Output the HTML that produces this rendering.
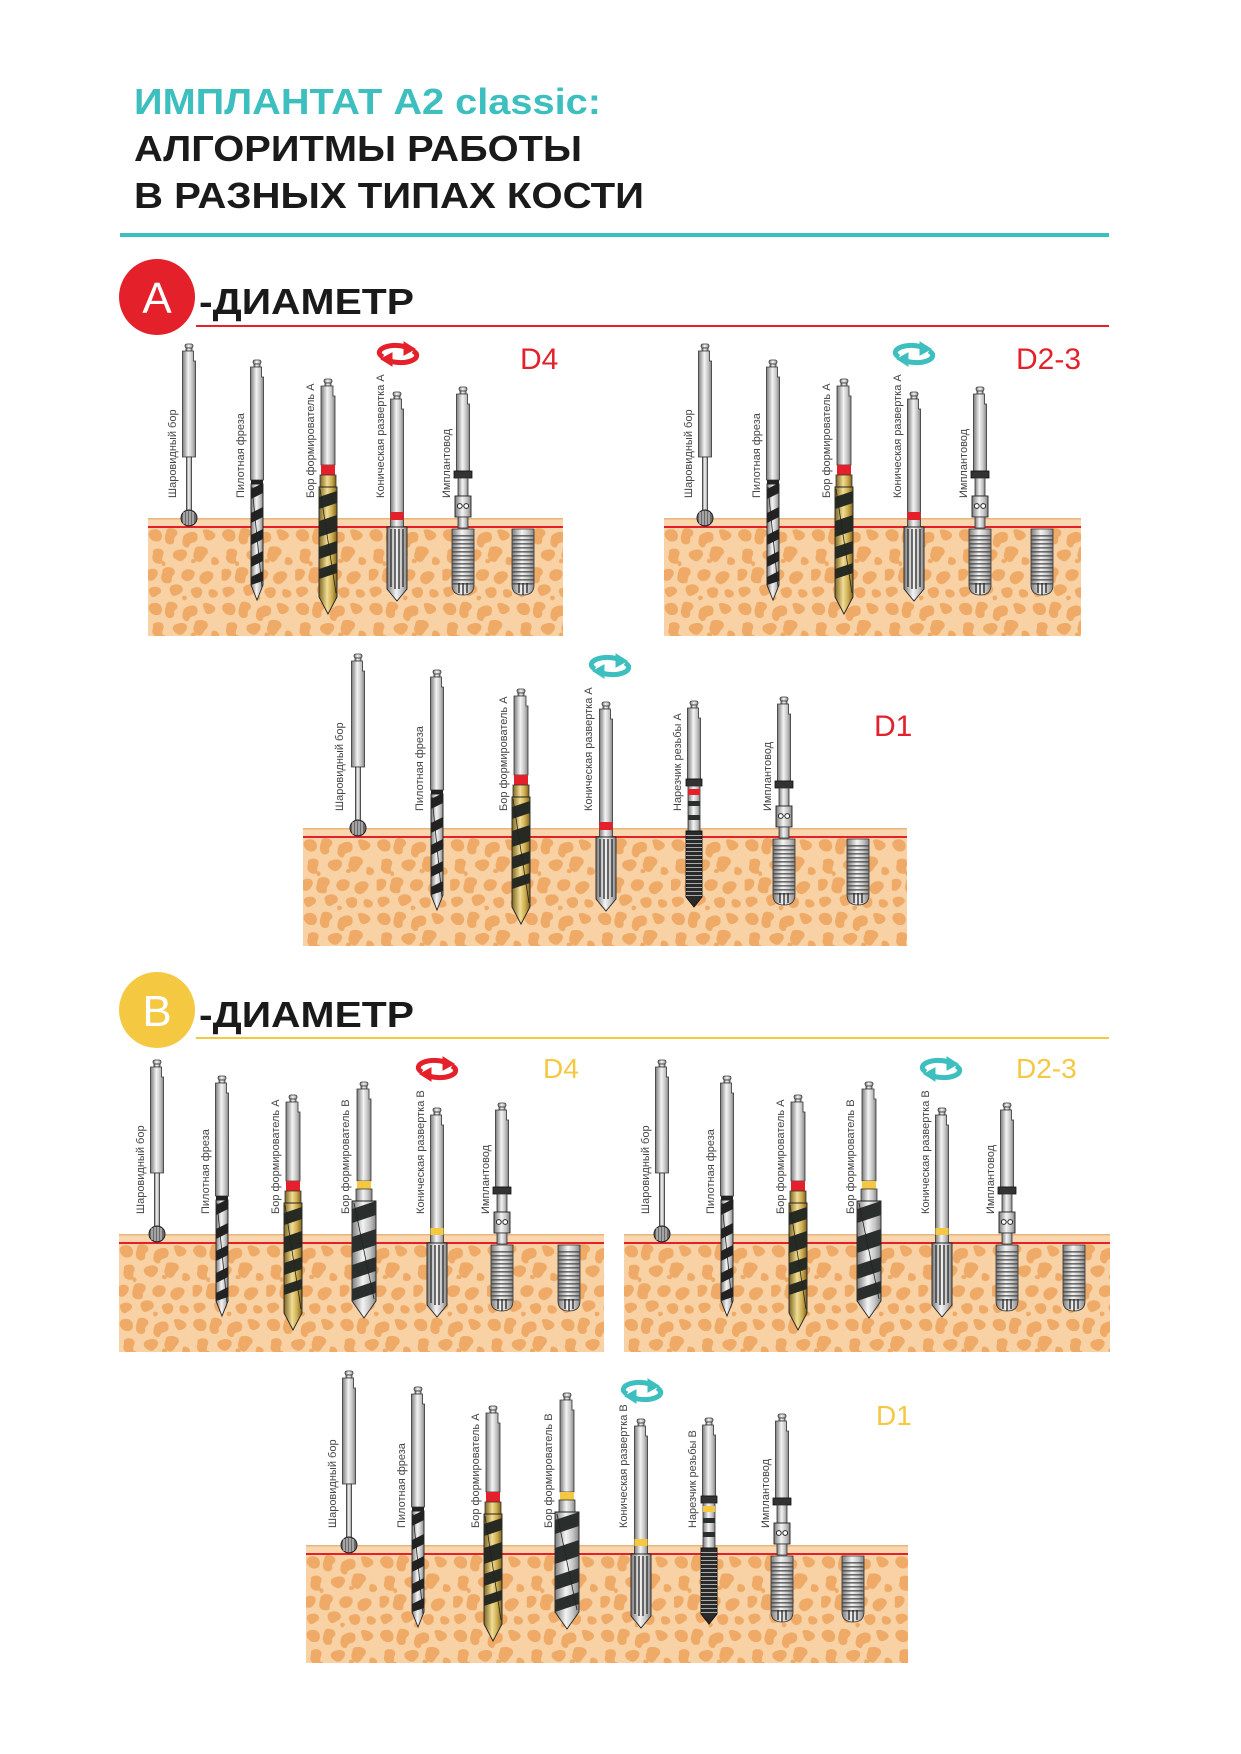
<!DOCTYPE html>
<html><head><meta charset="utf-8"><style>html,body{margin:0;padding:0;background:#fff}svg{display:block}</style></head>
<body>
<svg width="1241" height="1754" viewBox="0 0 1241 1754" xmlns="http://www.w3.org/2000/svg" font-family="Liberation Sans, sans-serif">
<defs>
<linearGradient id="m" x1="0" x2="1" y1="0" y2="0"><stop offset="0" stop-color="#7a7a7a"/><stop offset=".45" stop-color="#f4f4f4"/><stop offset=".75" stop-color="#c4c4c4"/><stop offset="1" stop-color="#858585"/></linearGradient>
<linearGradient id="gd" x1="0" x2="1" y1="0" y2="0"><stop offset="0" stop-color="#7d6520"/><stop offset=".45" stop-color="#f1dd95"/><stop offset=".75" stop-color="#c9a84a"/><stop offset="1" stop-color="#7a601c"/></linearGradient>
<pattern id="bone" width="64" height="64" patternUnits="userSpaceOnUse" patternTransform="scale(1.15)">
<rect width="64" height="64" fill="#f8d2a4"/>
<g fill="#eeaa66">
<path d="M2 3c6-3 11 1 10 6s-7 4-9 2-4-5-1-8z"/><path d="M19 1c7 0 8 5 5 7s1 6-4 7-6-5-5-8 1-6 4-6z"/>
<path d="M35 5c5-2 9 0 8 5s-6 2-7 6-7 1-6-4 1-5 5-7z"/><path d="M51 2c6 1 10 5 6 8s-7 2-8-2-3-6 2-6z"/>
<path d="M7 19c5-1 8 2 6 6s2 7-3 7-7-4-6-7-1-5 3-6z"/><path d="M26 20c6-2 10 2 7 6s-5 5-9 2-3-7 2-8z"/>
<path d="M44 17c7-1 10 4 7 7s-4 8-8 6-4-6-3-8 0-5 4-5z"/><path d="M57 26c4 0 6 4 4 6s-6 1-6-1 0-5 2-5z"/>
<path d="M1 37c5-2 9 1 7 5s-5 6-8 4-3-7 1-9z"/><path d="M16 35c7-1 9 4 6 7s1 7-5 7-6-5-5-8 0-5 4-6z"/>
<path d="M33 37c6-1 9 2 7 6s-6 5-9 3-3-7 2-9z"/><path d="M49 39c6-2 10 2 7 6s-6 6-9 4-4-7 2-10z"/>
<path d="M5 52c6-1 8 4 5 6s-6 5-8 1-2-6 3-7z"/><path d="M23 50c7-1 9 5 6 7s-7 5-9 1-2-7 3-8z"/>
<path d="M40 53c5-2 8 1 7 5s-6 5-8 2-3-6 1-7z"/><path d="M55 54c5 0 7 4 5 6s-6 2-7-1 0-5 2-5z"/>
<path d="M12 30c2-1 4 1 3 3s-4 1-3-3z"/><path d="M38 28c3-1 5 2 3 3s-5 0-3-3z"/><path d="M30 60c3-1 5 1 3 3s-4 0-3-3z"/>
</g></pattern>

<g id="knob"><rect x="-4" y="0" width="8" height="4" rx="2" fill="url(#m)" stroke="#333" stroke-width=".8"/><rect x="-3" y="4" width="6" height="3" fill="url(#m)" stroke="#333" stroke-width=".8"/></g>

<g id="ball">
<use href="#knob" transform="translate(0,-183)"/>
<path d="M-6.5 -176H4.5V-166H6.5V-70H-6.5Z" fill="url(#m)" stroke="#333" stroke-width=".8"/>
<rect x="-2.5" y="-70" width="5" height="56" fill="url(#m)" stroke="#333" stroke-width=".8"/>
<circle cx="0" cy="-9" r="8" fill="#6a6a6a" stroke="#222" stroke-width="1"/>
<path d="M-5 -15V-3M-2 -16V-2M1 -16V-2M4 -15V-3" stroke="#ddd" stroke-width="1"/>
</g>

<g id="pilot">
<use href="#knob" transform="translate(0,-167)"/>
<path d="M-6.5 -160H4.5V-150H6.5V-47H-6.5Z" fill="url(#m)" stroke="#333" stroke-width=".8"/>
<rect x="-6" y="-47" width="12" height="4" fill="#222"/>
<path d="M-6 -43H6V58L0 73L-6 58Z" fill="url(#m)" stroke="#222" stroke-width=".9"/>
<g fill="#222"><path d="M-6 -38L6 -44V-34L-6 -28Z"/><path d="M-6 -14L6 -20V-10L-6 -4Z"/><path d="M-6 8L6 2V12L-6 18Z"/><path d="M-6 30L6 24V34L-6 40Z"/><path d="M-6 50L6 44V54L-6 58Z"/></g>
<path d="M-5 -40L5 60" stroke="#222" stroke-width=".8"/>
</g>

<g id="borA">
<use href="#knob" transform="translate(0,-148)"/>
<path d="M-7 -141H5V-131H7V-62H-7Z" fill="url(#m)" stroke="#333" stroke-width=".8"/>
<rect x="-7" y="-62" width="14" height="10" fill="#e4202a"/>
<rect x="-8" y="-52" width="16" height="12" fill="url(#gd)" stroke="#333" stroke-width=".8"/>
<path d="M-9 -40H9V70L0 87L-9 70Z" fill="url(#gd)" stroke="#222" stroke-width=".9"/>
<g fill="#262a22"><path d="M-9 -30L9 -36V-24L-9 -18Z"/><path d="M-9 -6L9 -12V4L-9 10Z"/><path d="M-9 20L9 14V26L-9 32Z"/><path d="M-9 42L9 36V46L-9 52Z"/></g>
<path d="M-8 -38L8 66" stroke="#222" stroke-width=".8"/>
</g>

<g id="borB">
<use href="#knob" transform="translate(0,-161)"/>
<path d="M-7 -154H5V-144H7V-62H-7Z" fill="url(#m)" stroke="#333" stroke-width=".8"/>
<rect x="-7" y="-62" width="14" height="8" fill="#f5c842"/>
<rect x="-8" y="-54" width="16" height="12" fill="url(#m)" stroke="#333" stroke-width=".8"/>
<path d="M-12 -42H12V58L0 75L-12 58Z" fill="url(#m)" stroke="#222" stroke-width=".9"/>
<g fill="#2a2f2d"><path d="M-12 -34L12 -42V-28L-12 -20Z"/><path d="M-12 -6L12 -14V2L-12 10Z"/><path d="M-12 22L12 14V28L-12 36Z"/><path d="M-12 46L12 38V50L-12 58Z"/></g>
<path d="M-10 -40L10 56" stroke="#222" stroke-width=".8"/>
</g>

<g id="ream">
<use href="#knob" transform="translate(0,-135)"/>
<path d="M-6.5 -128H4.5V-118H6.5V0H-6.5Z" fill="url(#m)" stroke="#333" stroke-width=".8"/>
<path d="M-10 0H10V62L0 74L-10 62Z" fill="url(#m)" stroke="#222" stroke-width=".9"/>
<path d="M-6 2V60M-2 2V62M2 2V62M6 2V60" stroke="#333" stroke-width="1.4"/>
</g>
<g id="reamA"><use href="#ream"/><rect x="-6.5" y="-15" width="13" height="8" fill="#e4202a"/></g>
<g id="reamB"><use href="#ream"/><rect x="-6.5" y="-15" width="13" height="7" fill="#f5c842"/></g>

<g id="implant">
<path d="M-11 2H11V58Q11 68 0 68Q-11 68 -11 58Z" fill="url(#m)" stroke="#333" stroke-width=".8"/>
<path d="M0 8V60" stroke="#444" stroke-width="22" stroke-dasharray="1.6 2.4" opacity=".75"/>
<path d="M-4 56V66M0 56V68M4 56V66" stroke="#222" stroke-width="1.3"/>
</g>

<g id="impl">
<use href="#knob" transform="translate(0,-140)"/>
<path d="M-6.5 -133H4.5V-123H6.5V-56H-6.5Z" fill="url(#m)" stroke="#333" stroke-width=".8"/>
<rect x="-9" y="-56" width="18" height="7" fill="#333" stroke="#111" stroke-width=".8"/>
<rect x="-5" y="-49" width="10" height="18" fill="url(#m)" stroke="#333" stroke-width=".8"/>
<rect x="-8" y="-31" width="16" height="21" fill="url(#m)" stroke="#222" stroke-width=".9"/>
<circle cx="-3.2" cy="-21" r="2.4" fill="#fff" stroke="#222"/><circle cx="3.2" cy="-21" r="2.4" fill="#fff" stroke="#222"/>
<rect x="-5" y="-10" width="10" height="11" fill="url(#m)" stroke="#333" stroke-width=".8"/>
<use href="#implant"/>
</g>

<g id="tap">
<use href="#knob" transform="translate(0,-136)"/>
<path d="M-6.5 -129H4.5V-119H6.5V-58H-6.5Z" fill="url(#m)" stroke="#333" stroke-width=".8"/>
<rect x="-8" y="-58" width="16" height="7" fill="#333" stroke="#111" stroke-width=".8"/>
<rect x="-6" y="-51" width="12" height="45" fill="url(#m)" stroke="#333" stroke-width=".8"/>
<rect x="-6" y="-36" width="12" height="5" fill="#2a2f2d"/><rect x="-6" y="-22" width="12" height="5" fill="#2a2f2d"/>
<path d="M-8 -6H8V60L0 70L-8 60Z" fill="#2a2a2a" stroke="#111" stroke-width=".9"/>
<path d="M0 -2V62" stroke="#aaa" stroke-width="16" stroke-dasharray="1 3"/>
</g>
<g id="tapA"><use href="#tap"/><rect x="-6" y="-48" width="12" height="6" fill="#e4202a"/></g>
<g id="tapB"><use href="#tap"/><rect x="-6" y="-48" width="12" height="6" fill="#f5c842"/></g>

<g id="rot">
<path d="M-15 3A16 7 0 0 1 10 -6" fill="none" stroke="inherit" stroke-width="5"/>
<path d="M15 -3A16 7 0 0 1 -10 6" fill="none" stroke="inherit" stroke-width="5"/>
<path d="M6 -12L17 -5L6 1Z"/><path d="M-6 12L-17 5L-6 -1Z"/>
</g>
</defs>

<!-- Title -->
<text x="134" y="114" font-size="36" font-weight="bold" fill="#3cbfbe" textLength="467" lengthAdjust="spacingAndGlyphs">ИМПЛАНТАТ A2 classic:</text>
<text x="134" y="161" font-size="36" font-weight="bold" fill="#1a1a1a" textLength="448" lengthAdjust="spacingAndGlyphs">АЛГОРИТМЫ РАБОТЫ</text>
<text x="134" y="208" font-size="36" font-weight="bold" fill="#1a1a1a" textLength="510" lengthAdjust="spacingAndGlyphs">В РАЗНЫХ ТИПАХ КОСТИ</text>
<rect x="120" y="233" width="989" height="4" fill="#3cbfbe"/>

<!-- A header -->
<circle cx="157" cy="297" r="38" fill="#e4202a"/>
<text x="157" y="313" font-size="44" fill="#fff" text-anchor="middle">A</text>
<text x="199" y="314" font-size="36" font-weight="bold" fill="#1a1a1a" textLength="215" lengthAdjust="spacingAndGlyphs">-ДИАМЕТР</text>
<rect x="196" y="325" width="913" height="2" fill="#e4202a"/>

<!-- B header -->
<circle cx="157" cy="1010" r="38" fill="#f5c842"/>
<text x="157" y="1026" font-size="44" fill="#fff" text-anchor="middle">B</text>
<text x="199" y="1027" font-size="36" font-weight="bold" fill="#1a1a1a" textLength="215" lengthAdjust="spacingAndGlyphs">-ДИАМЕТР</text>
<rect x="196" y="1037" width="913" height="2" fill="#f5c842"/>

<g font-size="11" fill="#444">
<!-- A1 D4 -->
<g transform="translate(148,527)">
<rect x="0" y="0" width="415" height="109" fill="url(#bone)"/>
<rect x="0" y="-9" width="415" height="9" fill="#f9d6ae"/><rect x="0" y="-9" width="415" height="1.5" fill="#e9b57c"/>
<rect x="0" y="-1" width="415" height="2" fill="#e4202a"/>
<use href="#ball" x="41"/><use href="#pilot" x="109"/><use href="#borA" x="180"/><use href="#reamA" x="249"/><use href="#impl" x="315"/><use href="#implant" x="375"/>
<g fill="#e4202a" stroke="#e4202a"><use href="#rot" transform="translate(250,-173)"/></g>
<text x="372" y="-158" font-size="30" fill="#e4202a">D4</text>
<text transform="translate(28,-29) rotate(-90)">Шаровидный бор</text>
<text transform="translate(96,-29) rotate(-90)">Пилотная фреза</text>
<text transform="translate(166,-29) rotate(-90)">Бор формирователь А</text>
<text transform="translate(236,-29) rotate(-90)">Коническая развертка А</text>
<text transform="translate(302,-29) rotate(-90)">Имплантовод</text>
</g>
<!-- A2 D2-3 -->
<g transform="translate(664,527)">
<rect x="0" y="0" width="417" height="109" fill="url(#bone)"/>
<rect x="0" y="-9" width="417" height="9" fill="#f9d6ae"/><rect x="0" y="-9" width="417" height="1.5" fill="#e9b57c"/>
<rect x="0" y="-1" width="417" height="2" fill="#e4202a"/>
<use href="#ball" x="41"/><use href="#pilot" x="109"/><use href="#borA" x="180"/><use href="#reamA" x="250"/><use href="#impl" x="316"/><use href="#implant" x="378"/>
<g fill="#3cbfbe" stroke="#3cbfbe"><use href="#rot" transform="translate(250,-173)"/></g>
<text x="352" y="-158" font-size="30" fill="#e4202a">D2-3</text>
<text transform="translate(28,-29) rotate(-90)">Шаровидный бор</text>
<text transform="translate(96,-29) rotate(-90)">Пилотная фреза</text>
<text transform="translate(166,-29) rotate(-90)">Бор формирователь А</text>
<text transform="translate(237,-29) rotate(-90)">Коническая развертка А</text>
<text transform="translate(303,-29) rotate(-90)">Имплантовод</text>
</g>
<!-- A3 D1 -->
<g transform="translate(303,837)">
<rect x="0" y="0" width="604" height="109" fill="url(#bone)"/>
<rect x="0" y="-9" width="604" height="9" fill="#f9d6ae"/><rect x="0" y="-9" width="604" height="1.5" fill="#e9b57c"/>
<rect x="0" y="-1" width="604" height="2" fill="#e4202a"/>
<use href="#ball" x="55"/><use href="#pilot" x="134"/><use href="#borA" x="218"/><use href="#reamA" x="303"/><use href="#tapA" x="391"/><use href="#impl" x="481"/><use href="#implant" x="555"/>
<g fill="#3cbfbe" stroke="#3cbfbe"><use href="#rot" transform="translate(307,-171)"/></g>
<text x="571" y="-101" font-size="30" fill="#e4202a">D1</text>
<text transform="translate(40,-26) rotate(-90)">Шаровидный бор</text>
<text transform="translate(120,-26) rotate(-90)">Пилотная фреза</text>
<text transform="translate(204,-26) rotate(-90)">Бор формирователь А</text>
<text transform="translate(289,-26) rotate(-90)">Коническая развертка А</text>
<text transform="translate(378,-26) rotate(-90)">Нарезчик резьбы А</text>
<text transform="translate(468,-26) rotate(-90)">Имплантовод</text>
</g>
<!-- B1 D4 -->
<g transform="translate(119,1243)">
<rect x="0" y="0" width="485" height="109" fill="url(#bone)"/>
<rect x="0" y="-9" width="485" height="9" fill="#f9d6ae"/><rect x="0" y="-9" width="485" height="1.5" fill="#e9b57c"/>
<rect x="0" y="-1" width="485" height="2" fill="#e4202a"/>
<use href="#ball" x="38"/><use href="#pilot" x="103"/><use href="#borA" x="174"/><use href="#borB" x="245"/><use href="#reamB" x="318"/><use href="#impl" x="383"/><use href="#implant" x="450"/>
<g fill="#e4202a" stroke="#e4202a"><use href="#rot" transform="translate(318,-174)"/></g>
<text x="424" y="-165" font-size="28" fill="#f5c842">D4</text>
<text transform="translate(25,-29) rotate(-90)">Шаровидный бор</text>
<text transform="translate(90,-29) rotate(-90)">Пилотная фреза</text>
<text transform="translate(160,-29) rotate(-90)">Бор формирователь А</text>
<text transform="translate(230,-29) rotate(-90)">Бор формирователь В</text>
<text transform="translate(305,-29) rotate(-90)">Коническая развертка В</text>
<text transform="translate(370,-29) rotate(-90)">Имплантовод</text>
</g>
<!-- B2 D2-3 -->
<g transform="translate(624,1243)">
<rect x="0" y="0" width="486" height="109" fill="url(#bone)"/>
<rect x="0" y="-9" width="486" height="9" fill="#f9d6ae"/><rect x="0" y="-9" width="486" height="1.5" fill="#e9b57c"/>
<rect x="0" y="-1" width="486" height="2" fill="#e4202a"/>
<use href="#ball" x="38"/><use href="#pilot" x="103"/><use href="#borA" x="174"/><use href="#borB" x="245"/><use href="#reamB" x="318"/><use href="#impl" x="383"/><use href="#implant" x="450"/>
<g fill="#3cbfbe" stroke="#3cbfbe"><use href="#rot" transform="translate(317,-174)"/></g>
<text x="392" y="-165" font-size="28" fill="#f5c842">D2-3</text>
<text transform="translate(25,-29) rotate(-90)">Шаровидный бор</text>
<text transform="translate(90,-29) rotate(-90)">Пилотная фреза</text>
<text transform="translate(160,-29) rotate(-90)">Бор формирователь А</text>
<text transform="translate(230,-29) rotate(-90)">Бор формирователь В</text>
<text transform="translate(305,-29) rotate(-90)">Коническая развертка В</text>
<text transform="translate(370,-29) rotate(-90)">Имплантовод</text>
</g>
<!-- B3 D1 -->
<g transform="translate(306,1554)">
<rect x="0" y="0" width="602" height="109" fill="url(#bone)"/>
<rect x="0" y="-9" width="602" height="9" fill="#f9d6ae"/><rect x="0" y="-9" width="602" height="1.5" fill="#e9b57c"/>
<rect x="0" y="-1" width="602" height="2" fill="#e4202a"/>
<use href="#ball" x="43"/><use href="#pilot" x="112"/><use href="#borA" x="187"/><use href="#borB" x="261"/><use href="#reamB" x="335"/><use href="#tapB" x="403"/><use href="#impl" x="476"/><use href="#implant" x="547"/>
<g fill="#3cbfbe" stroke="#3cbfbe"><use href="#rot" transform="translate(336,-163)"/></g>
<text x="570" y="-129" font-size="28" fill="#f5c842">D1</text>
<text transform="translate(30,-26) rotate(-90)">Шаровидный бор</text>
<text transform="translate(99,-26) rotate(-90)">Пилотная фреза</text>
<text transform="translate(173,-26) rotate(-90)">Бор формирователь А</text>
<text transform="translate(246,-26) rotate(-90)">Бор формирователь В</text>
<text transform="translate(321,-26) rotate(-90)">Коническая развертка В</text>
<text transform="translate(390,-26) rotate(-90)">Нарезчик резьбы В</text>
<text transform="translate(463,-26) rotate(-90)">Имплантовод</text>
</g>
</g>
</svg>
</body></html>
